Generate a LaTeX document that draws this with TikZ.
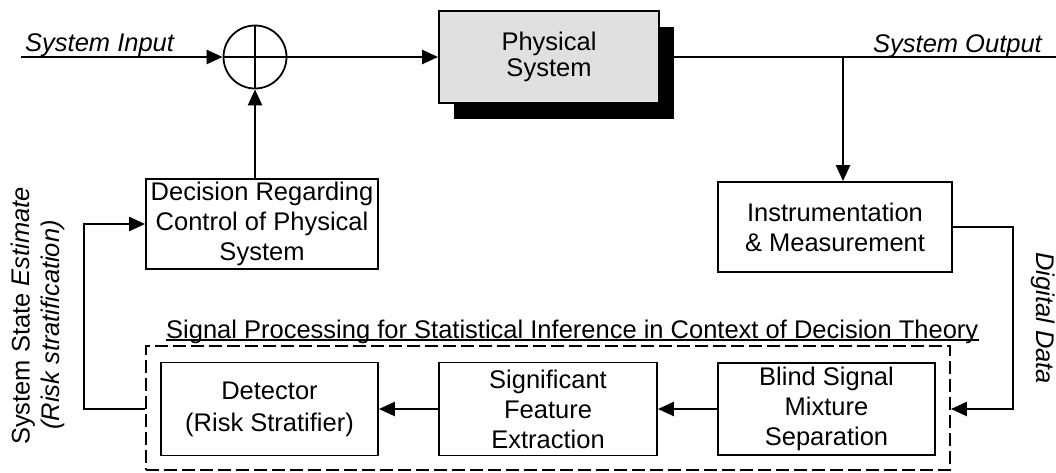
\documentclass[tikz,border=0pt]{standalone}
\usepackage{fontspec}
\setmainfont{Liberation Sans}
\usetikzlibrary{arrows.meta,shadows,calc}
\begin{document}
\begin{tikzpicture}[x=1pt,y=-1pt,
  every node/.style={font=\fontsize{25.5}{30}\selectfont},
  lbl/.style={font=\fontsize{25.5}{30}\selectfont\itshape, inner sep=0pt},
  blk/.style={draw, line width=1.8pt, align=center, inner sep=0pt},
  arr/.style={line width=2.4pt, -{Triangle[length=16pt,width=14pt]}},
  wire/.style={line width=2.4pt},
]
\useasboundingbox (0,0) rectangle (1056,472);

% summing junction
\node[draw, circle, line width=1.8pt, minimum size=63pt, inner sep=0pt] (sum) at (255,57) {};
\draw[line width=1.5pt] (sum.north) -- (sum.south) (sum.west) -- (sum.east);

% physical system with shadow
\node[blk, fill=black!12, minimum width=220pt, minimum height=92pt,
      drop shadow={shadow xshift=15pt, shadow yshift=-16pt, fill=black, opacity=1},
      font=\fontsize{25.5}{26}\selectfont] (phys) at (549,57) {Physical\\System};

\node[blk, minimum width=232pt, minimum height=90pt] (dec) at (262,224) {Decision Regarding\\Control of Physical\\System};
\node[blk, minimum width=234pt, minimum height=90pt] (ins) at (835,227) {Instrumentation\\\& Measurement};

% dashed processing frame
\node[draw, line width=1.8pt, dash pattern=on 13pt off 5pt, minimum width=804pt, minimum height=124pt, inner sep=0pt] (dp) at (548,408) {};
\node[anchor=base west, inner sep=0pt] (ttl) at (166,338) {Signal Processing for Statistical Inference in Context of Decision Theory};
\draw[line width=1.4pt] ($(ttl.base west)+(0,2)$) -- ($(ttl.base east)+(0,2)$);

\node[blk, minimum width=217pt, minimum height=93pt, font=\fontsize{25.5}{32}\selectfont] (det) at (269.5,409) {Detector\\(Risk Stratifier)};
\node[blk, minimum width=218pt, minimum height=93pt] (sig) at (548,409) {Significant\\Feature\\Extraction};
\node[blk, minimum width=217pt, minimum height=92pt] (bli) at (826.5,409) {Blind Signal\\Mixture\\Separation};

% free connector ends
\coordinate (in) at (21,57);
\coordinate (out) at (1056,57);
\coordinate (br) at (843,57);
\coordinate (dd) at (1013,409);
\coordinate (sl) at (84,409);

% connectors
\draw[arr] (in) -- (sum.west);
\draw[arr] (sum.east) -- (phys.west);
\draw[wire] (phys.east) -- (out);
\draw[arr] (br) -- (br |- ins.north);
\draw[arr] (dec.north -| sum.south) -- (sum.south);
\draw[arr] (ins.east) -| (dd) -- (dd -| dp.east);
\draw[arr] (bli.west) -- (sig.east);
\draw[arr] (sig.west) -- (det.east);
\draw[arr] (sl -| dp.west) -- (sl) |- (dec.west);

% labels
\node[lbl, anchor=base west] (sin) at (25,51) {System Input};
\node[lbl, anchor=base east] (sout) at (1042,52) {System Output};
\node[rotate=90, inner sep=0pt] (sse) at (23,316) {System State \textit{Estimate}};
\node[lbl, rotate=90] (risk) at (53,325) {(Risk stratification)};
\node[lbl, rotate=-90] (dig) at (1043,318) {Digital Data};
\end{tikzpicture}
\end{document}
